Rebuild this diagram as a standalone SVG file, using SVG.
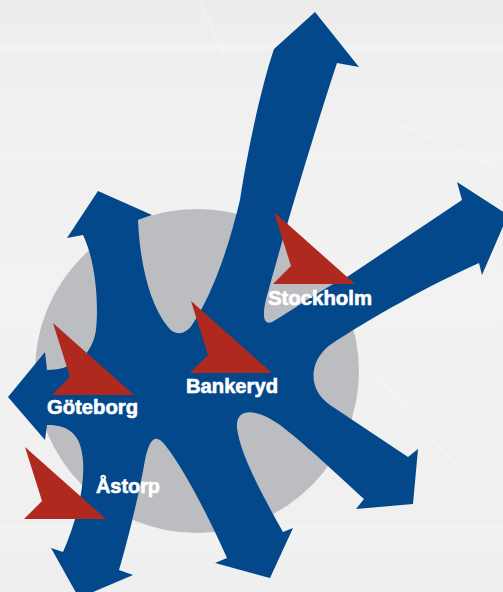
<svg xmlns="http://www.w3.org/2000/svg" width="503" height="592" viewBox="0 0 503 592">
<style>
.lbl{font-family:"Liberation Sans",Arial,sans-serif;font-weight:bold;font-size:20px;fill:#ffffff;stroke:#ffffff;stroke-width:0.6}
.flag{fill:#b0291e}
.streak{stroke:#ffffff;stroke-width:1.5;opacity:0.35;fill:none}
</style>
<defs>
<linearGradient id="bg" x1="0" y1="0" x2="0" y2="1">
<stop offset="0" stop-color="#ebebeb"/>
<stop offset="0.07" stop-color="#efefef"/>
<stop offset="0.5" stop-color="#f2f2f2"/>
<stop offset="1" stop-color="#efefef"/>
</linearGradient>
<path id="flagShape" d="M0,0 L81,72 L-1,72 L17,54 Z"/>
</defs>
<rect width="503" height="592" fill="url(#bg)"/>
<g id="background-texture">
<rect x="0" y="42" width="503" height="8" fill="#f6f6f6" opacity="0.5"/>
<rect x="0" y="150" width="503" height="14" fill="#f6f6f6" opacity="0.4"/>
<rect x="0" y="525" width="503" height="20" fill="#f6f6f6" opacity="0.4"/>
<path class="streak" d="M200,0 L225,60"/>
<path class="streak" d="M390,120 L503,170"/>
<path class="streak" d="M380,380 L460,470"/>
</g>
<circle id="hub" cx="197" cy="371" r="162" fill="#bcbdc1"/>
<g id="connectors">
<path id="arrows" fill="#03488a" d="M315,12 L359,67 L337,63 C318,120 285,230 268,292 C262,312 262,326 272,322 C290,312 320,290 347,277 L462,200 L457,182 L508,215 L482,275 L479,263 C430,285 370,318 330,345 C310,360 306,388 330,405 L408,457 L418,449 L413,504 L356,509 L364,499 C335,472 300,440 280,425 C260,410 235,405 237,428 C240,455 265,500 283,532 L293,528 L270,578 L215,563 L227,558 C210,520 185,470 165,445 C155,432 149,440 145,460 C140,490 128,540 119,570 L133,575 L79,598 L51,548 L63,552 C75,525 85,490 83,460 C81,435 70,425 47,425 L45,440 L8,397 L45,352 L47,370 C70,370 92,358 96,330 C99,300 95,260 83,235 L67,238 L98,191 L152,215 L138,220 C140,265 150,305 168,327 C175,336 185,335 192,325 C212,295 228,250 240,200 C246,160 260,90 274,49 Z"/>
</g>
<g id="stockholm">
<use href="#flagShape" class="flag" transform="translate(274,212)"/>
<text class="lbl" x="268" y="305" textLength="104" lengthAdjust="spacingAndGlyphs">Stockholm</text>
</g>
<g id="bankeryd">
<use href="#flagShape" class="flag" transform="translate(191,301)"/>
<text class="lbl" x="186" y="393" textLength="92" lengthAdjust="spacingAndGlyphs">Bankeryd</text>
</g>
<g id="goteborg">
<use href="#flagShape" class="flag" transform="translate(53,323)"/>
<text class="lbl" x="47" y="414" textLength="91" lengthAdjust="spacingAndGlyphs">Göteborg</text>
</g>
<g id="astorp">
<use href="#flagShape" class="flag" transform="translate(25,447)"/>
<text class="lbl" x="96" y="493" textLength="64" lengthAdjust="spacingAndGlyphs">Åstorp</text>
</g>
</svg>
